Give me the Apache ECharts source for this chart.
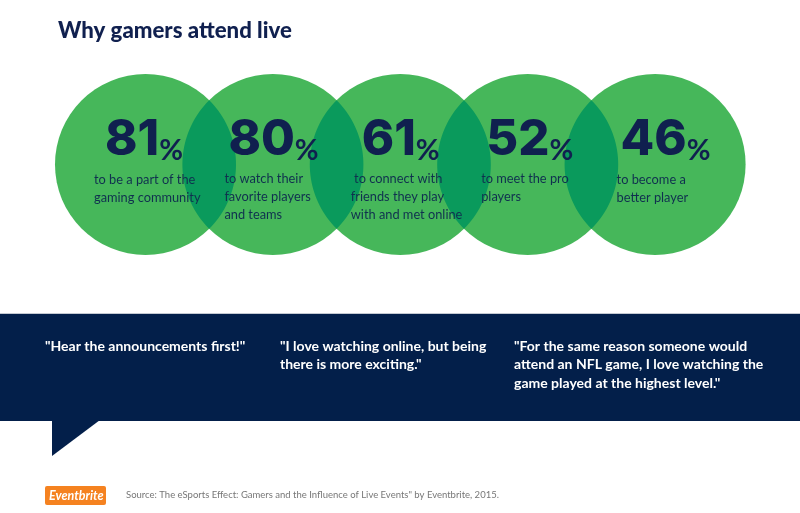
<!DOCTYPE html>
<html>
<head>
<meta charset="utf-8">
<style>
  html, body { margin: 0; padding: 0; background: #fff; }
  #chart { width: 800px; height: 513px; }
</style>
<script src="https://cdn.jsdelivr.net/npm/echarts@6/dist/echarts.min.js"></script>
</head>
<body>
<div id="chart"></div>
<script>
const titleText = 'Why gamers attend live';
const reasons = [
  'to be a part of the\ngaming community',
  'to watch their\nfavorite players\nand teams',
  ' to connect with\nfriends they play\nwith and met online',
  'to meet the pro\nplayers',
  'to become a\nbetter player'
];
const percents = [81, 80, 61, 52, 46];
const quotes = [
  '"Hear the announcements first!"',
  '"I love watching online, but being\nthere is more exciting."',
  '"For the same reason someone would\nattend an NFL game, I love watching the\ngame played at the highest level."'
];
const sourceText = 'Source: The eSports Effect: Gamers and the Influence of Live Events" by Eventbrite, 2015.';

// label placement relative to each circle centre
const numberPos = [[-40, -24], [-44, -24], [-38, -24], [-41, -24], [-34, -24]];
const reasonPos = [[-51, 7], [-48, 6], [-49, 6], [-46, 6], [-38, 7]];
const quoteX = [45, 280, 514];

const fontName = 'Lato, "Open Sans", sans-serif';
const numberFont = 'Inter, Lato, sans-serif';
const navy = '#10204f';
const circleSize = 181;

const chart = echarts.init(document.getElementById('chart'));

// darker lens where two neighbouring circles meet
function renderOverlap(params, api) {
  const a = api.coord([api.value(0), 0]);
  const b = api.coord([api.value(0) + 1, 0]);
  const r = circleSize / 2;
  const h = Math.sqrt(r * r - Math.pow((b[0] - a[0]) / 2, 2));
  const angle = Math.asin(h / r);
  const points = [];
  for (let i = 0; i <= 40; i++) {
    const t = -angle + (2 * angle * i) / 40;
    points.push([a[0] + r * Math.cos(t), a[1] + r * Math.sin(t)]);
  }
  for (let i = 0; i <= 40; i++) {
    const t = Math.PI - angle + (2 * angle * i) / 40;
    points.push([b[0] + r * Math.cos(t), b[1] - r * Math.sin(t)]);
  }
  return { type: 'polygon', shape: { points: points }, style: { fill: '#0a9a5c' } };
}

const option = {
  animation: false,
  backgroundColor: '#fff',
  title: {
    text: titleText,
    left: 53,
    top: 15,
    textStyle: { color: navy, fontFamily: fontName, fontWeight: 900, fontSize: 22.2 }
  },
  grid: { left: 81.8, width: 637, top: 74, height: 181 },
  xAxis: { type: 'category', data: reasons, show: false },
  yAxis: { type: 'value', min: -1, max: 1, show: false },
  series: [
    {
      name: 'circles',
      type: 'scatter',
      z: 1,
      silent: true,
      symbolSize: circleSize,
      itemStyle: { color: '#46b75a', opacity: 1 },
      data: percents.map((v, i) => [i, 0])
    },
    {
      name: 'overlaps',
      type: 'custom',
      z: 2,
      silent: true,
      renderItem: renderOverlap,
      data: percents.slice(1).map((v, i) => [i, 0])
    },
    {
      name: 'percent',
      type: 'scatter',
      z: 3,
      silent: true,
      symbolSize: 1,
      itemStyle: { color: 'transparent', opacity: 1 },
      data: percents.map((v, i) => ({
        value: [i, 0],
        label: {
          show: true,
          position: numberPos[i],
          align: 'left',
          verticalAlign: 'middle',
          formatter: '{n|' + v + '}{p|%}',
          rich: {
            n: { fontFamily: numberFont, fontWeight: 800, fontSize: 49, lineHeight: 50, color: navy, verticalAlign: 'bottom' },
            p: { fontFamily: fontName, fontWeight: 'bold', fontSize: 29, lineHeight: 44, color: navy, verticalAlign: 'bottom' }
          }
        }
      }))
    },
    {
      name: 'reason',
      type: 'scatter',
      z: 3,
      silent: true,
      symbolSize: 1,
      itemStyle: { color: 'transparent', opacity: 1 },
      data: reasons.map((t, i) => ({
        value: [i, 0],
        label: {
          show: true,
          position: reasonPos[i],
          align: 'left',
          verticalAlign: 'top',
          formatter: t,
          color: '#10304f',
          fontFamily: fontName,
          fontSize: 12.8,
          lineHeight: 18
        }
      }))
    }
  ],
  graphic: [
    { type: 'rect', shape: { x: 0, y: 313, width: 800, height: 1 }, style: { fill: '#c4c9d2' } },
    { type: 'rect', shape: { x: 0, y: 314, width: 800, height: 107 }, style: { fill: '#031f4a' } },
    { type: 'polygon', shape: { points: [[52, 420], [100, 420], [52, 456]] }, style: { fill: '#031f4a' } },
    ...quotes.map((q, i) => ({
      type: 'text',
      x: quoteX[i],
      y: 337,
      style: { text: q, fill: '#fff', fontFamily: fontName, fontWeight: 'bold', fontSize: 14, lineHeight: 18.5 }
    })),
    { type: 'rect', shape: { x: 45, y: 486, width: 61, height: 19, r: 2 }, style: { fill: '#f58220' } },
    {
      type: 'text',
      x: 49,
      y: 489,
      style: { text: 'Eventbrite', fill: '#fff', fontFamily: fontName, fontStyle: 'italic', fontWeight: 'bold', fontSize: 12.5 }
    },
    {
      type: 'text',
      x: 126,
      y: 490,
      style: { text: sourceText, fill: '#777', fontFamily: fontName, fontSize: 9.5 }
    }
  ]
};

chart.setOption(option);
</script>
</body>
</html>
